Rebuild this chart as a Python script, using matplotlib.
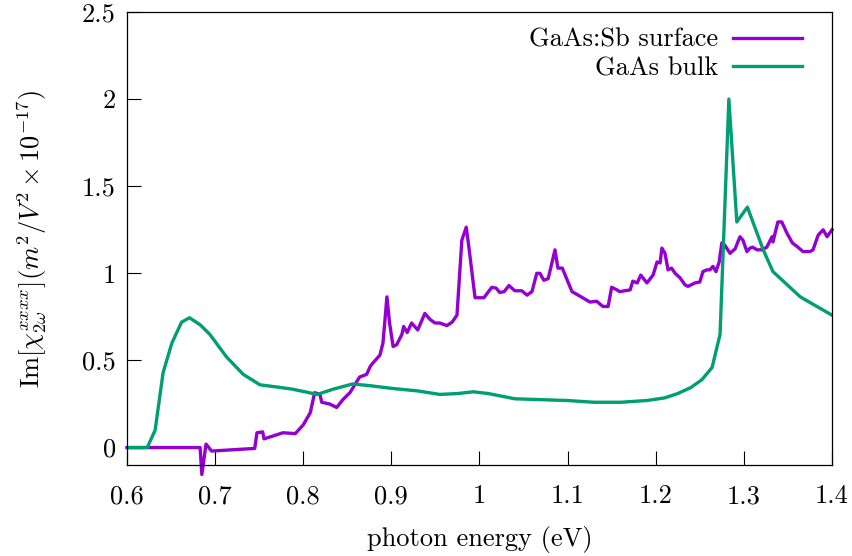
import matplotlib
matplotlib.use('Agg')
import matplotlib.pyplot as plt
from matplotlib.ticker import FuncFormatter

plt.rcParams['font.family'] = ['cmr10', 'DejaVu Serif']
plt.rcParams['mathtext.fontset'] = 'cm'
plt.rcParams['axes.formatter.use_mathtext'] = True
plt.rcParams['font.size'] = 19

# GaAs:Sb surface spectrum
surf_x = [0.60, 0.683, 0.685, 0.6897, 0.696, 0.745, 0.7475, 0.754, 0.7555, 0.768,
          0.777, 0.791, 0.800, 0.808, 0.813, 0.819, 0.821, 0.830, 0.838, 0.845,
          0.853, 0.864, 0.872, 0.876, 0.879, 0.887, 0.8905, 0.895, 0.898, 0.902,
          0.906, 0.912, 0.914, 0.918, 0.923, 0.930, 0.938, 0.944, 0.9495, 0.955,
          0.963, 0.969, 0.9745, 0.980, 0.985, 0.988, 0.995, 1.005, 1.014, 1.019,
          1.023, 1.028, 1.0335, 1.040, 1.048, 1.054, 1.0596, 1.065, 1.0687, 1.073,
          1.078, 1.0857, 1.089, 1.094, 1.105, 1.112, 1.1254, 1.133, 1.140, 1.146,
          1.150, 1.156, 1.159, 1.171, 1.174, 1.179, 1.183, 1.190, 1.197, 1.2015,
          1.205, 1.207, 1.2105, 1.214, 1.218, 1.222, 1.2275, 1.233, 1.2366, 1.2445,
          1.250, 1.2536, 1.258, 1.2615, 1.265, 1.2684, 1.272, 1.275, 1.2786, 1.2843,
          1.29, 1.2956, 1.299, 1.3035, 1.307, 1.310, 1.3149, 1.3206, 1.326, 1.332,
          1.333, 1.3386, 1.343, 1.349, 1.355, 1.3614, 1.367, 1.375, 1.3785, 1.3844,
          1.39, 1.3945, 1.40]
surf_y = [0, 0, -0.155, 0.02, -0.02, -0.005, 0.085, 0.09, 0.05, 0.07,
          0.085, 0.08, 0.13, 0.2, 0.315, 0.305, 0.26, 0.25, 0.23, 0.275,
          0.315, 0.405, 0.42, 0.465, 0.485, 0.53, 0.60, 0.865, 0.715, 0.58,
          0.59, 0.65, 0.695, 0.66, 0.715, 0.675, 0.77, 0.735, 0.715, 0.715,
          0.70, 0.72, 0.76, 1.19, 1.265, 1.15, 0.86, 0.86, 0.92, 0.915,
          0.89, 0.895, 0.93, 0.90, 0.90, 0.875, 0.895, 1.0, 1.0, 0.96,
          0.97, 1.135, 1.03, 1.03, 0.895, 0.875, 0.835, 0.84, 0.81, 0.81,
          0.92, 0.905, 0.895, 0.905, 0.955, 0.945, 0.99, 0.945, 0.99, 1.065,
          1.06, 1.145, 1.115, 1.02, 1.03, 1.0, 0.975, 0.935, 0.925, 0.945,
          0.95, 1.01, 1.02, 1.02, 1.04, 1.01, 1.065, 1.175, 1.16, 1.115,
          1.14, 1.21, 1.19, 1.125, 1.145, 1.15, 1.135, 1.135, 1.15, 1.21,
          1.18, 1.295, 1.295, 1.23, 1.175, 1.15, 1.125, 1.125, 1.135, 1.22,
          1.25, 1.21, 1.25]

# GaAs bulk spectrum
bulk_x = [0.60, 0.623, 0.632, 0.641, 0.651, 0.662, 0.671, 0.683, 0.694, 0.713,
          0.732, 0.751, 0.774, 0.788, 0.816, 0.834, 0.856, 0.876, 0.90, 0.93,
          0.955, 0.975, 0.993, 1.01, 1.04, 1.07, 1.10, 1.13, 1.16, 1.19,
          1.21, 1.225, 1.24, 1.2525, 1.264, 1.273, 1.283, 1.292, 1.304, 1.322,
          1.333, 1.364, 1.40]
bulk_y = [0, 0, 0.10, 0.43, 0.60, 0.72, 0.745, 0.705, 0.65, 0.52,
          0.42, 0.36, 0.345, 0.335, 0.305, 0.335, 0.365, 0.355, 0.34, 0.325,
          0.305, 0.31, 0.32, 0.31, 0.28, 0.275, 0.27, 0.26, 0.26, 0.27,
          0.285, 0.31, 0.345, 0.39, 0.46, 0.65, 2.0, 1.295, 1.38, 1.135,
          1.01, 0.865, 0.76]

xticks = [0.6, 0.7, 0.8, 0.9, 1.0, 1.1, 1.2, 1.3, 1.4]
yticks = [0, 0.5, 1, 1.5, 2, 2.5]

fig = plt.figure(figsize=(8.52, 5.56), dpi=100)
ax = fig.add_axes([0.149, 0.1637, 0.8275, 0.8147])

ax.plot(surf_x, surf_y, color='#9400D3', lw=2.4, label='GaAs:Sb surface', clip_on=False)
ax.plot(bulk_x, bulk_y, color='#009E73', lw=2.4, label='GaAs bulk')

ax.set_xlim(0.6, 1.4)
ax.set_ylim(-0.1, 2.5)
ax.set_xticks(xticks)
ax.set_yticks(yticks)
fmt = FuncFormatter(lambda v, p: '%g' % round(v, 3))
ax.xaxis.set_major_formatter(fmt)
ax.yaxis.set_major_formatter(fmt)
ax.tick_params(direction='in', length=10, width=0.8)
ax.tick_params(axis='x', pad=14)
ax.tick_params(axis='y', pad=8)
for s in ax.spines.values():
    s.set_linewidth(0.9)

ax.set_xlabel('photon energy (eV)', labelpad=13)
ax.set_ylabel(r'$\mathrm{Im}[\chi^{xxxx}_{2\omega}](m^2/V^2\times10^{-17})$', labelpad=24)

ax.legend(loc='upper right', bbox_to_anchor=(0.968, 0.982), frameon=False,
          markerfirst=False, handlelength=2.6, handletextpad=0.55,
          labelspacing=0.18, borderaxespad=0, borderpad=0.3)

plt.savefig('out.png', dpi=100)
